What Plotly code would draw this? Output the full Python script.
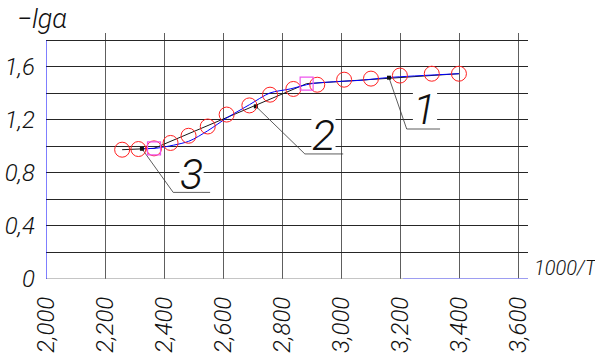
import plotly.graph_objects as go

# Experimental points (1000/T, -lg alpha)
circle_x = [2.258, 2.313, 2.366, 2.422, 2.483, 2.548, 2.612, 2.689, 2.759,
            2.838, 2.919, 3.010, 3.101, 3.199, 3.307, 3.399]
circle_y = [0.975, 0.980, 0.985, 1.026, 1.080, 1.150, 1.240, 1.309, 1.390,
            1.433, 1.465, 1.503, 1.511, 1.534, 1.548, 1.548]

# Break points between regions
square_x = [2.366, 2.883]
square_y = [0.985, 1.473]

# Piecewise-linear approximation (regions 3, 2, 1)
piece_x = [2.258, 2.366, 2.883, 3.399]
piece_y = [0.975, 0.985, 1.473, 1.548]

# Smooth fitted curve
fit_x = [2.325, 2.366, 2.386, 2.483, 2.548, 2.612, 2.689, 2.759, 2.827,
         2.900, 2.996, 3.064, 3.165, 3.399]
fit_y = [0.983, 0.985, 0.990, 1.038, 1.118, 1.214, 1.314, 1.403, 1.433,
         1.473, 1.490, 1.498, 1.520, 1.548]

# Region labels: leader-line anchor on curve, elbow, end, and text position
labels = ["1", "2", "3"]
leader_x = [[3.162, 3.222, 3.335], [2.711, 2.877, 3.007], [2.325, 2.431, 2.556]]
leader_y = [[1.518, 1.131, 1.131], [1.302, 0.943, 0.943], [0.982, 0.653, 0.653]]
label_x = [3.284, 2.940, 2.493]
label_y = [1.284, 1.088, 0.794]

x_tick_vals = [2.0, 2.2, 2.4, 2.6, 2.8, 3.0, 3.2, 3.4, 3.6]
x_tick_text = ["2,000", "2,200", "2,400", "2,600", "2,800", "3,000", "3,200", "3,400", "3,600"]
y_tick_vals = [0, 0.2, 0.4, 0.6, 0.8, 1.0, 1.2, 1.4, 1.6, 1.8]
y_tick_text = ["0", "", "0,4", "", "0,8", "", "1,2", "", "1,6", ""]

X_MAX = 3.633
Y_MAX = 1.855
FONT = "Roboto, Lato, sans-serif"
INK = "#111111"

# gap in the grid behind each label, in axis units
GAP_HW = 0.041
GAP_HH = 0.12

fig = go.Figure()

# white patches interrupting the grid under the region numbers
for tx, ty in zip(label_x, label_y):
    fig.add_shape(type="rect", layer="between", x0=tx - GAP_HW, x1=tx + GAP_HW,
                  y0=ty - GAP_HH, y1=ty + GAP_HH, fillcolor="white",
                  line=dict(width=0))

fig.add_trace(go.Scatter(x=piece_x, y=piece_y, mode="lines",
                         line=dict(color="#1a1a1a", width=1)))
fig.add_trace(go.Scatter(x=fit_x, y=fit_y, mode="lines",
                         line=dict(color="#0000ff", width=1, shape="spline", smoothing=0.8)))

for lx, ly in zip(leader_x, leader_y):
    fig.add_trace(go.Scatter(x=lx, y=ly, mode="lines",
                             line=dict(color="#333333", width=0.8)))
    fig.add_trace(go.Scatter(x=lx[:1], y=ly[:1], mode="markers",
                             marker=dict(symbol="square", size=4, color="#111111")))

fig.add_trace(go.Scatter(x=circle_x, y=circle_y, mode="markers",
                         marker=dict(symbol="circle-open", size=15, color="#ff2020",
                                     line=dict(width=1))))
fig.add_trace(go.Scatter(x=square_x, y=square_y, mode="markers",
                         marker=dict(symbol="square-open", size=13, color="#ee55ee",
                                     line=dict(width=1.2))))

for t, tx, ty in zip(labels, label_x, label_y):
    fig.add_annotation(x=tx, y=ty, text=t, showarrow=False,
                       font=dict(family=FONT, size=43, color=INK, style="italic",
                                 weight=300))

# Axis lines
fig.add_shape(type="line", x0=2.0, x1=X_MAX, y0=0, y1=0,
              line=dict(color="#8c8c8c", width=1.2))
fig.add_shape(type="line", x0=3.21, x1=X_MAX, y0=0, y1=0,
              line=dict(color="#8f8fff", width=1.5))
fig.add_shape(type="line", x0=2.0, x1=2.0, y0=0, y1=1.8,
              line=dict(color="#0000ff", width=1))

# Axis titles
fig.add_annotation(xref="paper", yref="paper", x=-0.008, y=1.055, xanchor="center",
                   yanchor="middle", text="−lgα", showarrow=False,
                   font=dict(family=FONT, size=27, color=INK, style="italic", weight=300))
fig.add_annotation(xref="paper", yref="y", x=1.008, y=0.085, xanchor="left",
                   yanchor="middle", text="1000/T", showarrow=False,
                   font=dict(family=FONT, size=20, color=INK, style="italic", weight=300))

fig.update_layout(
    width=595, height=353,
    margin=dict(l=46, r=67, t=33, b=74, autoexpand=False),
    paper_bgcolor="white", plot_bgcolor="white",
    showlegend=False,
    xaxis=dict(range=[2.0, X_MAX], tickvals=x_tick_vals, ticktext=x_tick_text,
               tickangle=-90, showgrid=True, gridcolor="#5e5e5e", gridwidth=1.2,
               zeroline=False, showline=False, ticks="", ticklabelstandoff=12,
               automargin=False,
               tickfont=dict(family=FONT, size=24, color=INK, style="italic", weight=300)),
    yaxis=dict(range=[0, Y_MAX], tickvals=y_tick_vals, ticktext=y_tick_text,
               showgrid=True, gridcolor="#262626", gridwidth=1,
               zeroline=False, showline=False, ticks="", ticklabelstandoff=10,
               automargin=False,
               tickfont=dict(family=FONT, size=24, color=INK, style="italic", weight=300)),
)

fig.write_html("out.html")
